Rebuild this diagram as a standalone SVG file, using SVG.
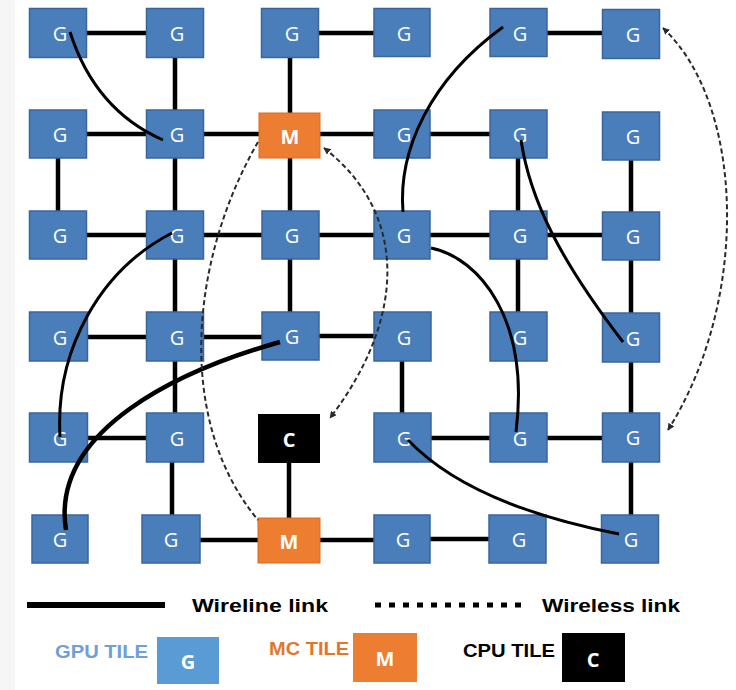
<svg xmlns="http://www.w3.org/2000/svg" width="736" height="690" viewBox="0 0 736 690">
<defs>
<style>
.g rect{fill:#4A7EBB;stroke:#3A659A;stroke-width:1.5}
.m rect{fill:#ED7D31;stroke:#D86C22;stroke-width:1}
.c rect{fill:#000}
.n text{fill:#fff;font-family:"Open Sans","Liberation Sans",sans-serif;font-size:20px;text-anchor:middle;dominant-baseline:central}
.m text,.c text{font-weight:bold}
.w line{stroke:#000;stroke-width:4.5}
.cv path{fill:none;stroke:#000;stroke-width:3}
.wl path{fill:none;stroke:#2a2a2a;stroke-width:2;stroke-dasharray:5 3}
.lg{font-family:"Liberation Sans Narrow","Liberation Sans",sans-serif;font-weight:bold;font-size:19px}
</style>
<marker id="ah" viewBox="0 0 10 10" refX="9" refY="5" markerWidth="7" markerHeight="7" orient="auto-start-reverse" markerUnits="userSpaceOnUse">
<path d="M0,0 L10,5 L0,10 z" fill="#2a2a2a"/>
</marker>
</defs>
<rect width="736" height="690" fill="#fff"/>
<rect width="15" height="690" fill="#f6f6f6"/>

<g id="wireline-links" class="w">
<line x1="58" y1="33" x2="175" y2="33"/>
<line x1="290" y1="33" x2="402" y2="33"/>
<line x1="518" y1="33" x2="631" y2="33"/>
<line x1="175" y1="33" x2="175" y2="134"/>
<line x1="290" y1="33" x2="290" y2="135"/>
<line x1="58" y1="134" x2="175" y2="134"/>
<line x1="175" y1="134" x2="290" y2="134"/>
<line x1="290" y1="134" x2="402" y2="134"/>
<line x1="402" y1="134" x2="518" y2="134"/>
<line x1="58" y1="134" x2="58" y2="235"/>
<line x1="175" y1="134" x2="175" y2="235"/>
<line x1="290" y1="135" x2="290" y2="235"/>
<line x1="518" y1="134" x2="518" y2="235"/>
<line x1="631" y1="136" x2="631" y2="236"/>
<line x1="58" y1="235" x2="175" y2="235"/>
<line x1="175" y1="235" x2="290" y2="235"/>
<line x1="290" y1="235" x2="402" y2="235"/>
<line x1="402" y1="235" x2="518" y2="235"/>
<line x1="518" y1="235" x2="631" y2="235"/>
<line x1="175" y1="235" x2="175" y2="337"/>
<line x1="290" y1="235" x2="290" y2="336"/>
<line x1="518" y1="235" x2="518" y2="337"/>
<line x1="631" y1="236" x2="631" y2="337"/>
<line x1="58" y1="337" x2="175" y2="337"/>
<line x1="175" y1="337" x2="290" y2="337"/>
<line x1="290" y1="336" x2="402" y2="336"/>
<line x1="175" y1="337" x2="175" y2="438"/>
<line x1="402" y1="337" x2="402" y2="438"/>
<line x1="631" y1="337" x2="631" y2="438"/>
<line x1="58" y1="438" x2="175" y2="438"/>
<line x1="402" y1="438" x2="518" y2="438"/>
<line x1="518" y1="438" x2="631" y2="438"/>
<line x1="172" y1="438" x2="172" y2="539"/>
<line x1="289" y1="438" x2="289" y2="540"/>
<line x1="631" y1="438" x2="631" y2="539"/>
<line x1="171" y1="540" x2="289" y2="540"/>
<line x1="289" y1="540" x2="402" y2="540"/>
<line x1="402" y1="539" x2="518" y2="539"/>
</g>

<g id="n00" class="n g"><rect x="29.5" y="8.5" width="57" height="49"/><text x="60" y="33">G</text></g>
<g id="n10" class="n g"><rect x="146.5" y="8.5" width="57" height="49"/><text x="177" y="33">G</text></g>
<g id="n20" class="n g"><rect x="261.5" y="8.5" width="57" height="49"/><text x="292" y="33">G</text></g>
<g id="n30" class="n g"><rect x="374" y="8.5" width="56" height="48"/><text x="404" y="33">G</text></g>
<g id="n40" class="n g"><rect x="490" y="8.5" width="57" height="48"/><text x="520" y="33">G</text></g>
<g id="n50" class="n g"><rect x="602.5" y="9.5" width="57" height="49"/><text x="633" y="34">G</text></g>

<g id="n01" class="n g"><rect x="29.5" y="110" width="57" height="48"/><text x="60" y="134">G</text></g>
<g id="n11" class="n g"><rect x="146.5" y="110" width="57" height="48"/><text x="177" y="134">G</text></g>
<g id="m21" class="n m"><rect x="259" y="113" width="61" height="45"/><text x="290" y="136">M</text></g>
<g id="n31" class="n g"><rect x="374" y="110" width="56" height="48"/><text x="404" y="134">G</text></g>
<g id="n41" class="n g"><rect x="490" y="110" width="57" height="48"/><text x="520" y="134">G</text></g>
<g id="n51" class="n g"><rect x="602.5" y="112" width="57" height="48"/><text x="633" y="136">G</text></g>

<g id="n02" class="n g"><rect x="29.5" y="211" width="57" height="48"/><text x="60" y="235">G</text></g>
<g id="n12" class="n g"><rect x="146.5" y="211" width="57" height="48"/><text x="177" y="235">G</text></g>
<g id="n22" class="n g"><rect x="262" y="211" width="57" height="48"/><text x="292" y="235">G</text></g>
<g id="n32" class="n g"><rect x="374" y="211" width="56" height="48"/><text x="404" y="235">G</text></g>
<g id="n42" class="n g"><rect x="490" y="211" width="57" height="48"/><text x="520" y="235">G</text></g>
<g id="n52" class="n g"><rect x="602.5" y="212" width="57" height="48"/><text x="633" y="236">G</text></g>

<g id="n03" class="n g"><rect x="29.5" y="312" width="58" height="49"/><text x="60" y="337">G</text></g>
<g id="n13" class="n g"><rect x="146.5" y="312" width="57" height="49"/><text x="177" y="337">G</text></g>
<g id="n23" class="n g"><rect x="262" y="312" width="57" height="48"/><text x="292" y="336">G</text></g>
<g id="n33" class="n g"><rect x="374" y="312" width="57" height="49"/><text x="404" y="337">G</text></g>
<g id="n43" class="n g"><rect x="490" y="312" width="57" height="49"/><text x="520" y="337">G</text></g>
<g id="n53" class="n g"><rect x="602.5" y="313" width="57" height="49"/><text x="633" y="338">G</text></g>

<g id="n04" class="n g"><rect x="29.5" y="413" width="58" height="49"/><text x="60" y="438">G</text></g>
<g id="n14" class="n g"><rect x="146.5" y="413" width="57" height="49"/><text x="177" y="438">G</text></g>
<g id="c24" class="n c"><rect x="258" y="414" width="62" height="49"/><text x="289" y="439">C</text></g>
<g id="n34" class="n g"><rect x="374" y="413" width="57" height="49"/><text x="404" y="438">G</text></g>
<g id="n44" class="n g"><rect x="490" y="413" width="57" height="49"/><text x="520" y="438">G</text></g>
<g id="n54" class="n g"><rect x="602.5" y="413" width="57" height="49"/><text x="633" y="437">G</text></g>

<g id="n05" class="n g"><rect x="32" y="515" width="56" height="48"/><text x="60" y="539">G</text></g>
<g id="n15" class="n g"><rect x="142" y="515" width="58" height="48"/><text x="171" y="539">G</text></g>
<g id="m25" class="n m"><rect x="258" y="518" width="62" height="45"/><text x="289" y="541">M</text></g>
<g id="n35" class="n g"><rect x="374" y="515" width="56" height="48"/><text x="403" y="539">G</text></g>
<g id="n45" class="n g"><rect x="489" y="515" width="57" height="48"/><text x="519" y="539">G</text></g>
<g id="n55" class="n g"><rect x="601.5" y="515" width="57" height="48"/><text x="631" y="539">G</text></g>

<g id="long-links" class="cv">
<path d="M70,32 Q95,110 163,140"/>
<path d="M172,233 C100,270 55,350 60,437"/>
<path d="M280,342 C180,370 50,430 66,530" style="stroke-width:4.5"/>
<path d="M403,212 C398,150 430,80 503,27"/>
<path d="M431,248 C480,258 530,320 516,432"/>
<path d="M521,140 C530,200 560,260 623,342"/>
<path d="M408,440 Q470,505 619,534"/>
</g>

<g id="wireless-links" class="wl">
<path d="M324,148 C410,215 405,320 330,418" marker-start="url(#ah)" marker-end="url(#ah)"/>
<path d="M258,142 C190,260 175,420 258,520"/>
<path d="M663,28 C745,105 750,300 668,430" marker-start="url(#ah)" marker-end="url(#ah)"/>
</g>

<g id="legend">
<line x1="27" y1="605" x2="165" y2="605" stroke="#000" stroke-width="6"/>
<text class="lg" x="192" y="612" textLength="136" lengthAdjust="spacingAndGlyphs" fill="#000">Wireline link</text>
<line x1="375" y1="605" x2="527" y2="605" stroke="#000" stroke-width="5" stroke-dasharray="6 8"/>
<text class="lg" x="542" y="612" textLength="138" lengthAdjust="spacingAndGlyphs" fill="#000">Wireless link</text>
<text class="lg" x="55" y="658" textLength="93" lengthAdjust="spacingAndGlyphs" fill="#6F9FD8">GPU TILE</text>
<g id="legend-g" class="n"><rect x="157" y="637" width="62" height="47" fill="#5B9BD5"/><text x="188" y="661" style="font-weight:bold">G</text></g>
<text class="lg" x="269" y="655" textLength="80" lengthAdjust="spacingAndGlyphs" fill="#E0772D">MC TILE</text>
<g id="legend-m" class="n"><rect x="353" y="633" width="64" height="49" fill="#ED7D31"/><text x="385" y="658" style="font-weight:bold">M</text></g>
<text class="lg" x="463" y="657" textLength="92" lengthAdjust="spacingAndGlyphs" fill="#000">CPU TILE</text>
<g id="legend-c" class="n"><rect x="562" y="633" width="63" height="49" fill="#000"/><text x="593" y="659" style="font-weight:bold">C</text></g>
</g>
</svg>
